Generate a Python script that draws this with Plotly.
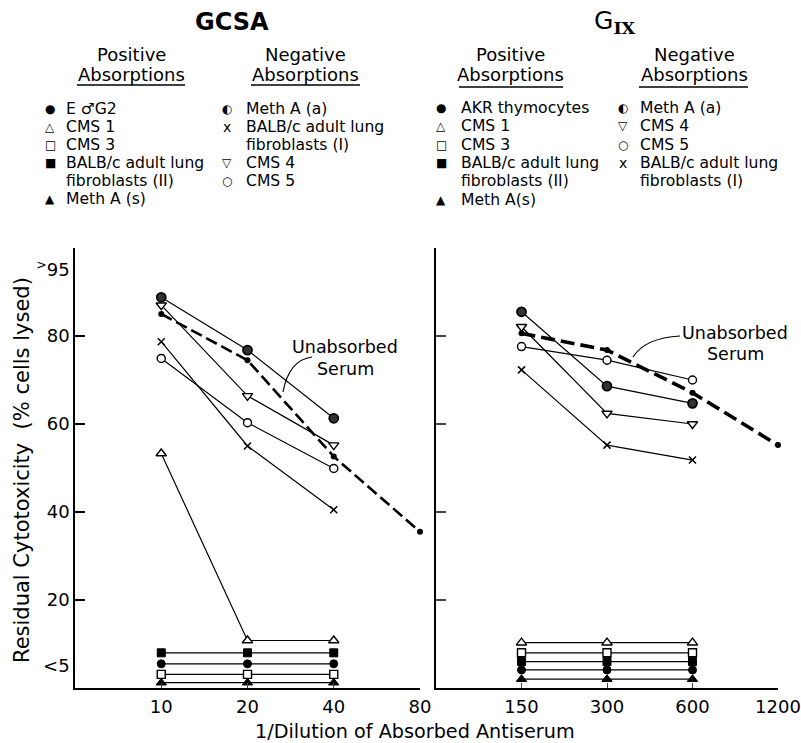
import math
import plotly.graph_objects as go

# ---------------- data ----------------
gcsa_x = [10, 20, 40]
gcsa_unabs_x = [10, 20, 40, 80]
gcsa_unabs = [85.0, 74.5, 52.6, 35.5]
gcsa_meth_a_a = [88.8, 76.8, 61.3]
gcsa_cms4 = [87.0, 66.4, 55.2]
gcsa_cms5 = [74.9, 60.3, 49.9]
gcsa_balbc_I = [78.7, 55.0, 40.5]
gcsa_cms1 = [53.3, 10.8, 10.8]
gcsa_balbc_II = [8.0, 8.0, 8.0]
gcsa_ecg2 = [5.5, 5.5, 5.5]
gcsa_cms3 = [3.1, 3.1, 3.1]
gcsa_meth_a_s = [1.2, 1.2, 1.2]

gix_x = [150, 300, 600]
gix_unabs_x = [150, 300, 600, 1200]
gix_unabs = [80.6, 76.8, 67.1, 55.2]
gix_meth_a_a = [85.5, 68.6, 64.7]
gix_cms4 = [82.1, 62.4, 60.0]
gix_cms5 = [77.6, 74.5, 70.0]
gix_balbc_I = [72.3, 55.2, 51.8]
gix_cms1 = [10.3, 10.3, 10.3]
gix_cms3 = [8.0, 8.0, 8.0]
gix_balbc_II = [6.0, 6.0, 6.0]
gix_akr = [4.1, 4.1, 4.1]
gix_meth_a_s = [2.0, 2.0, 2.0]

left_xticks = [10, 20, 40, 80]
right_xticks = [150, 300, 600, 1200]
y_tickvals = [5, 20, 40, 60, 80, 95]
y_ticktext = ["<5", "20", "40", "60", "80", "<sup>></sup>95"]

gcsa_pos_legend = [("●", "E ♂G2"), ("△", "CMS 1"), ("□", "CMS 3"),
                   ("■", "BALB/c adult lung<br>fibroblasts (II)"), ("▲", "Meth A (s)")]
gcsa_neg_legend = [("◐", "Meth A (a)"), ("x", "BALB/c adult lung<br>fibroblasts (I)"),
                   ("▽", "CMS 4"), ("○", "CMS 5")]
gix_pos_legend = [("●", "AKR thymocytes"), ("△", "CMS 1"), ("□", "CMS 3"),
                  ("■", "BALB/c adult lung<br>fibroblasts (II)"), ("▲", "Meth A(s)")]
gix_neg_legend = [("◐", "Meth A (a)"), ("▽", "CMS 4"), ("○", "CMS 5"),
                  ("x", "BALB/c adult lung<br>fibroblasts (I)")]

# ---------------- figure ----------------
W, H = 801, 743
FONT = "DejaVu Sans"


def fx(p):
    return p / W


def fy(p):
    return 1 - p / H


STY = {
    "fcircle": dict(symbol="circle", size=8, color="black", line=dict(color="black", width=1)),
    "half": dict(symbol="circle", size=9, color="#333", line=dict(color="black", width=1.8)),
    "otri": dict(symbol="triangle-up", size=9, color="white", line=dict(color="black", width=1.4)),
    "osq": dict(symbol="square", size=8, color="white", line=dict(color="black", width=1.4)),
    "fsq": dict(symbol="square", size=8, color="black", line=dict(color="black", width=1)),
    "ftri": dict(symbol="triangle-up", size=9, color="black", line=dict(color="black", width=1)),
    "x": dict(symbol="x-thin", size=7, color="black", line=dict(color="black", width=1.5)),
    "dtri": dict(symbol="triangle-down", size=9, color="white", line=dict(color="black", width=1.4)),
    "ocircle": dict(symbol="circle", size=8, color="white", line=dict(color="black", width=1.4)),
    "unabs": dict(symbol="circle", size=6, color="black"),
}

fig = go.Figure()


def add(xs, ys, sty, axis, width=1.2, dash="solid"):
    xa, ya = axis
    fig.add_trace(go.Scatter(
        x=xs, y=ys, mode="lines+markers", xaxis=xa, yaxis=ya,
        line=dict(color="black", width=width, dash=dash),
        marker=STY[sty], cliponaxis=False, showlegend=False, hoverinfo="x+y"))


L = ("x", "y")
R = ("x2", "y2")

add(gcsa_x, gcsa_cms1, "otri", L)
add(gcsa_x, gcsa_balbc_II, "fsq", L)
add(gcsa_x, gcsa_ecg2, "fcircle", L)
add(gcsa_x, gcsa_cms3, "osq", L)
add(gcsa_x, gcsa_meth_a_s, "ftri", L)
add(gcsa_x, gcsa_balbc_I, "x", L)
add(gcsa_x, gcsa_cms5, "ocircle", L)
add(gcsa_x, gcsa_cms4, "dtri", L)
add(gcsa_unabs_x, gcsa_unabs, "unabs", L, width=2.6, dash="12px,5px")
add(gcsa_x, gcsa_meth_a_a, "half", L)

add(gix_x, gix_cms1, "otri", R)
add(gix_x, gix_cms3, "osq", R)
add(gix_x, gix_balbc_II, "fsq", R)
add(gix_x, gix_akr, "fcircle", R)
add(gix_x, gix_meth_a_s, "ftri", R)
add(gix_x, gix_balbc_I, "x", R)
add(gix_x, gix_cms5, "ocircle", R)
add(gix_x, gix_cms4, "dtri", R)
add(gix_unabs_x, gix_unabs, "unabs", R, width=3.6, dash="14px,6px")
add(gix_x, gix_meth_a_a, "half", R)

axis_common = dict(showline=True, linecolor="black", linewidth=1.5, showgrid=False,
                   zeroline=False, automargin=False,
                   tickfont=dict(family=FONT, size=18, color="black"))

fig.update_layout(
    width=W, height=H, margin=dict(l=0, r=0, t=0, b=0),
    paper_bgcolor="white", plot_bgcolor="white", showlegend=False,
    xaxis=dict(domain=[fx(75), fx(420)], type="log",
               range=[math.log10(5), math.log10(80)], tickvals=left_xticks,
               ticktext=[str(v) for v in left_xticks], ticks="inside", ticklen=5,
               ticklabelstandoff=2, anchor="y", **axis_common),
    yaxis=dict(domain=[fy(688), fy(248)], range=[0, 100], tickvals=y_tickvals,
               ticktext=y_ticktext, ticks="", anchor="x",
               minor=dict(tickvals=[20, 40, 60, 80], ticks="inside", ticklen=10,
                          tickcolor="black", tickwidth=1.5),
               **axis_common),
    xaxis2=dict(domain=[fx(436), fx(778)], type="log",
                range=[math.log10(75), math.log10(1200)], tickvals=right_xticks,
                ticktext=[str(v) for v in right_xticks], ticks="inside", ticklen=5,
                ticklabelstandoff=2, anchor="y2", **axis_common),
    yaxis2=dict(domain=[fy(688), fy(248)], range=[0, 100], tickvals=[20, 40, 60, 80],
                showticklabels=False, ticks="inside", ticklen=10, tickwidth=1.5,
                anchor="x2", **axis_common),
)

ann = []


def text(x, y, s, size=14, xanchor="center", yanchor="middle", bold=False, angle=0):
    ann.append(dict(x=fx(x), y=fy(y), xref="paper", yref="paper", text=s,
                    showarrow=False, xanchor=xanchor, yanchor=yanchor, align="left",
                    textangle=angle,
                    font=dict(family=FONT, size=size, color="black",
                              weight="bold" if bold else "normal")))


# titles
text(232, 22, "GCSA", size=24, bold=True)
text(615, 22, "G<sub><b><span style=\"font-family:'DejaVu Serif'\">IX</span></b></sub>", size=25)

# headers
text(131, 54, "Positive", size=18)
text(131, 74, "Absorptions", size=18)
text(305, 54, "Negative", size=18)
text(305, 74, "Absorptions", size=18)
text(510, 54, "Positive", size=18)
text(510, 74, "Absorptions", size=18)
text(694, 54, "Negative", size=18)
text(694, 74, "Absorptions", size=18)

shapes = []
for x0, x1, yy in ((77, 185, 85), (251, 360, 85), (459, 563, 87), (639, 748, 87)):
    shapes.append(dict(type="line", xref="paper", yref="paper", x0=fx(x0), x1=fx(x1),
                       y0=fy(yy), y1=fy(yy), line=dict(color="black", width=1.5)))


def legend_col(items, sx, tx, y0, step):
    row = 0
    for sym, lab in items:
        lines = lab.split("<br>")
        for i, line in enumerate(lines):
            yy = y0 + (row + i) * step
            if i == 0:
                text(sx, yy, sym, size=12 if sym != "x" else 14)
            text(tx, yy, line, size=15.6, xanchor="left")
        row += len(lines)


legend_col(gcsa_pos_legend, 50, 64, 109, 17.9)
legend_col(gcsa_neg_legend, 227, 244, 109, 17.9)
legend_col(gix_pos_legend, 441, 459, 108, 18.3)
legend_col(gix_neg_legend, 623, 638, 108, 18.3)

# unabsorbed serum labels
text(345, 347, "Unabsorbed", size=17.5)
text(345, 369, "Serum", size=17.5)
text(735, 333, "Unabsorbed", size=17.5)
text(735, 354, "Serum", size=17.5)


def qpath(p0, c, p1):
    return "M %f,%f Q %f,%f %f,%f" % (fx(p0[0]), fy(p0[1]), fx(c[0]), fy(c[1]),
                                      fx(p1[0]), fy(p1[1]))


shapes.append(dict(type="path", xref="paper", yref="paper",
                   path=qpath((283, 392), (289, 360), (312, 357)),
                   line=dict(color="black", width=1.2)))
shapes.append(dict(type="path", xref="paper", yref="paper",
                   path=qpath((633, 357), (645, 338), (680, 336)),
                   line=dict(color="black", width=1.2)))

# axis titles
text(22, 470, "Residual Cytotoxicity  (% cells lysed)", size=21, angle=-90)
text(415, 731, "1/Dilution of Absorbed Antiserum", size=19.2)

fig.update_layout(annotations=ann, shapes=shapes)
fig.write_html(
    "out.html",
    config={"displayModeBar": False},
    post_script="document.body.style.margin='0';document.body.style.overflow='hidden';",
)
